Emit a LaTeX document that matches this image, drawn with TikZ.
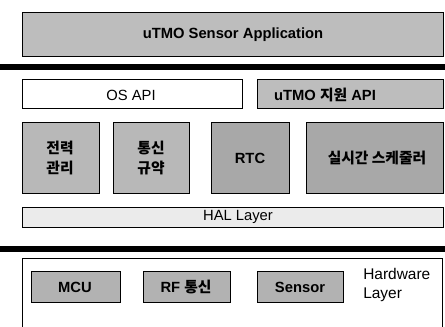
\documentclass[tikz,border=0pt]{standalone}
\usepackage{fontspec}
\setmainfont{Liberation Sans}
\newfontfamily\kr{Noto Sans CJK KR}
\usepackage{xcolor}
\definecolor{vizApp}{gray}{0.74}
\definecolor{vizBlock}{gray}{0.72}
\definecolor{vizDark}{gray}{0.66}
\definecolor{vizHal}{gray}{0.92}
\definecolor{vizHw}{gray}{0.70}
\tikzset{
  lbl/.style={font=\bfseries\fontsize{10.5}{12}\selectfont, align=center, inner sep=0pt},
  krlbl/.style={font=\kr\bfseries\fontsize{10.5}{14}\selectfont, align=center, inner sep=0pt},
  plain/.style={font=\fontsize{10.5}{12}\selectfont, align=center, inner sep=0pt}
}

\begin{document}
\begin{tikzpicture}[x=0.025cm, y=-0.025cm]
  \useasboundingbox (0,0) rectangle (445,327);
  % application layer
  \filldraw[fill=vizApp, draw=black] (22,12) rectangle (443,56);
  \node[lbl] (app) at (233,35) {uTMO Sensor Application};
  \fill[black] (0,64) rectangle (445,70);
  % api row
  \filldraw[fill=white, draw=black] (22,79) rectangle (242,108);
  \node[plain] (osapi) at (131,95) {OS API};
  \filldraw[fill=vizApp, draw=black] (257,79) rectangle (443,108);
  \node[lbl] (tmoapi) at (325,95) {uTMO {\kr 지원} API};
  % kernel blocks
  \filldraw[fill=vizBlock, draw=black] (22,122) rectangle (99,193);
  \node[krlbl] (power) at (60,158) {전력\\관리};
  \filldraw[fill=vizBlock, draw=black] (113,122) rectangle (189,193);
  \node[krlbl] (proto) at (151,158) {통신\\규약};
  \filldraw[fill=vizDark, draw=black] (211,122) rectangle (289,193);
  \node[lbl] (rtc) at (250,158) {RTC};
  \filldraw[fill=vizDark, draw=black] (306,122) rectangle (443,193);
  \node[krlbl] (sched) at (377,158) {실시간 스케줄러};
  % hal
  \filldraw[fill=vizHal, draw=black] (22,207) rectangle (443,227);
  \node[plain] (hal) at (238,217) {HAL Layer};
  \fill[black] (0,246) rectangle (445,252);
  % hardware layer
  \draw[black] (22,335) -- (22,258) -- (442,258) -- (442,335);
  \filldraw[fill=vizHw, draw=black] (31,271) rectangle (120,302);
  \node[lbl] (mcu) at (75,287) {MCU};
  \filldraw[fill=vizHw, draw=black] (143,271) rectangle (230,302);
  \node[lbl] (rf) at (186,287) {RF {\kr 통신}};
  \filldraw[fill=vizHw, draw=black] (257,271) rectangle (343,302);
  \node[lbl] (sensor) at (300,287) {Sensor};
  \node[plain, font=\fontsize{11}{14}\selectfont, align=left, anchor=west] (hw) at (363,285) {Hardware\\Layer};
\end{tikzpicture}
\end{document}
